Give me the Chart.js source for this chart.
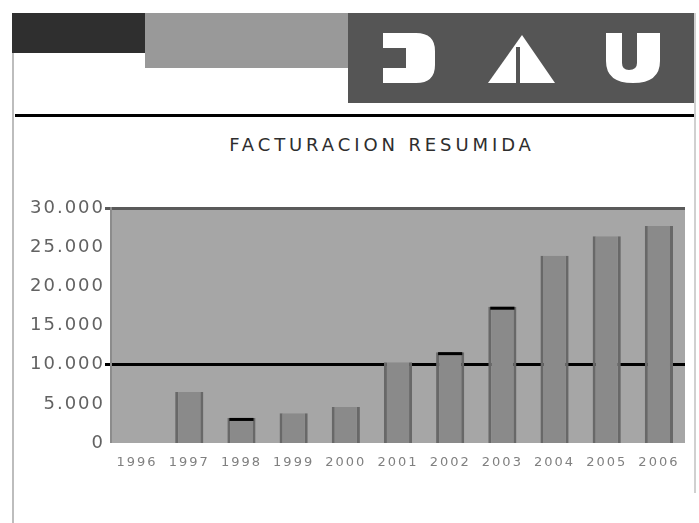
<!DOCTYPE html>
<html>
<head>
<meta charset="utf-8">
<script src="https://cdn.jsdelivr.net/npm/chart.js@4"></script>
<style>
  body { margin: 0; background: #fff; width: 699px; height: 523px; position: relative; overflow: hidden; }
  .bloque { position: absolute; }
  #titulo {
    position: absolute; left: 182px; top: 134px; width: 400px; text-align: center;
    font-family: "DejaVu Sans", sans-serif; font-size: 18px; line-height: 22px;
    letter-spacing: 3.9px; color: #2e2e2e;
  }
  #grafico { position: absolute; left: 12px; top: 195px; }
</style>
</head>
<body>
<!-- cabecera -->
<div class="bloque" style="left:12px;top:13px;width:2px;height:510px;background:#bdbdbd"></div>
<div class="bloque" style="left:694px;top:13px;width:2px;height:480px;background:#d0d0d0"></div>
<div class="bloque" style="left:12px;top:13px;width:133px;height:40px;background:#2f2f2f"></div>
<div class="bloque" style="left:145px;top:13px;width:203px;height:55px;background:#999"></div>
<svg class="bloque" style="left:348px;top:13px" width="346" height="90">
  <rect width="346" height="90" fill="#555"/>
  <path d="M35,20 H68 Q87,20 87,38 V52 Q87,70 68,70 H35 V55 H58 V35 H35 Z" fill="#fff"/>
  <path d="M174,22 L207,70 H140 Z" fill="#fff"/>
  <rect x="168" y="34" width="4" height="36" fill="#555"/>
  <path d="M258,20 H274 V50 Q274,57 281,57 Q289,57 289,50 V20 H312 V48 Q312,70 285,70 Q258,70 258,48 Z" fill="#fff"/>
</svg>
<div class="bloque" style="left:15px;top:114px;width:679px;height:3px;background:#000"></div>

<div id="titulo">FACTURACION RESUMIDA</div>
<canvas id="grafico" width="682" height="276"></canvas>

<script>
// facturación por año
const anios = ['1996', '1997', '1998', '1999', '2000', '2001', '2002', '2003', '2004', '2005', '2006'];
const facturacion = [0, 6500, 3200, 3800, 4600, 10300, 11600, 17400, 23900, 26400, 27700];
const ticksEje = [0, 5000, 10000, 15000, 20000, 25000, 30000];
const conMarca = [2, 6, 7]; // barras con remate negro

const fondoPlot = {
  id: 'fondoPlot',
  beforeDraw(chart) {
    const { ctx, chartArea: a } = chart;
    ctx.letterSpacing = '2px'; // textos de los ejes algo espaciados
    ctx.save();
    ctx.fillStyle = '#a6a6a6';
    ctx.fillRect(a.left, a.top, a.right - a.left, a.bottom - a.top);
    ctx.restore();
  }
};

const remates = {
  id: 'remates',
  afterDatasetsDraw(chart) {
    const ctx = chart.ctx;
    const meta = chart.getDatasetMeta(0);
    ctx.save();
    ctx.fillStyle = '#000';
    conMarca.forEach(i => {
      const b = meta.data[i];
      ctx.fillRect(b.x - b.width / 2 + 2, b.y, b.width - 4, 3);
    });
    ctx.restore();
  }
};

const colorLinea = v => v === 10000 ? '#000' : (v === 30000 ? '#5a5a5a' : 'rgba(0,0,0,0)');

new Chart(document.getElementById('grafico').getContext('2d'), {
  type: 'bar',
  data: {
    labels: anios,
    datasets: [{
      data: facturacion,
      backgroundColor: '#8a8a8a',
      borderColor: '#686868',
      borderWidth: { left: 3, right: 3, top: 0, bottom: 0 },
      borderSkipped: false,
      barPercentage: 0.9,
      categoryPercentage: 0.6
    }]
  },
  options: {
    responsive: false,
    animation: false,
    layout: { padding: { top: 13, right: 9, bottom: 0, left: 0 } },
    plugins: { legend: { display: false }, tooltip: { enabled: false } },
    scales: {
      x: {
        grid: { display: false, drawTicks: false },
        border: { display: false },
        ticks: { padding: 12, maxRotation: 0, color: '#808080', font: { family: 'DejaVu Sans', size: 13 } },
        afterFit: s => { s.height = 28; }
      },
      y: {
        min: 0,
        max: 30000,
        afterBuildTicks: s => { s.ticks = ticksEje.map(v => ({ value: v })); },
        grid: {
          color: c => colorLinea(c.tick.value),
          lineWidth: c => (c.tick.value === 10000 || c.tick.value === 30000) ? 3 : 0,
          tickLength: 6
        },
        border: { display: true, color: '#8c8c8c', width: 2 },
        ticks: {
          padding: 0,
          color: '#626262',
          font: { family: 'DejaVu Sans', size: 18 },
          callback: v => v.toLocaleString('de-DE')
        },
        afterFit: s => { s.width = 99; }
      }
    }
  },
  plugins: [fondoPlot, remates]
});
</script>
</body>
</html>
